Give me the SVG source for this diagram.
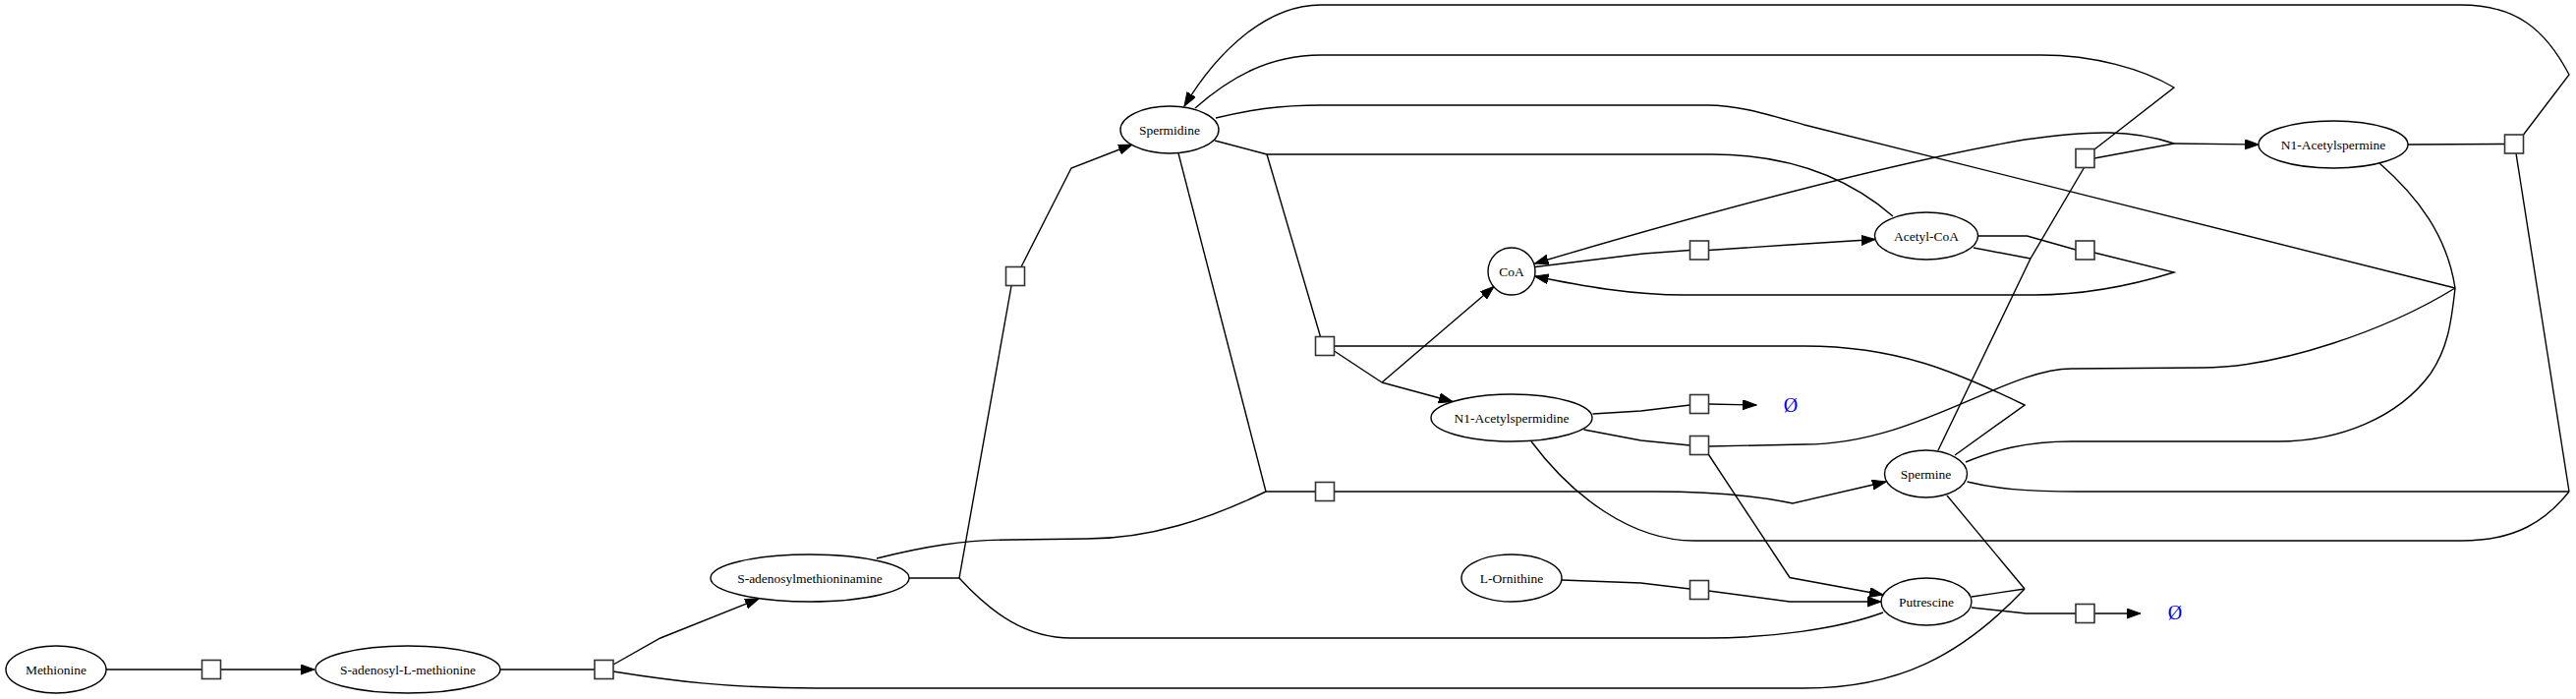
<svg xmlns="http://www.w3.org/2000/svg" width="2621" height="711" viewBox="0 0 2621 711">
<style>
.n ellipse{fill:#fff;stroke:#000;stroke-width:1.4}
.r rect{fill:#fff;stroke:#333;stroke-width:1.6}
.t{font-family:"Liberation Serif","Times New Roman",serif;font-size:13.5px;fill:#000;text-anchor:middle}
.e{fill:#0000ff;font-family:"Liberation Serif","Times New Roman",serif;font-size:20px;text-anchor:middle}
#edges path{fill:none;stroke:#000;stroke-width:1.4}
#edges path.a{marker-end:url(#ah)}
</style>
<defs>
<marker id="ah" markerUnits="userSpaceOnUse" markerWidth="15" markerHeight="11" refX="14" refY="5" orient="auto" viewBox="0 0 15 11">
<path d="M0,0 L14,5 L0,10 z" fill="#000" stroke="#000" stroke-width="1"/>
</marker>
</defs>
<rect width="2621" height="711" fill="#fff"/>
<g id="edges">
<path d="M108,681 L205.5,681"/>
<path class="a" d="M224.5,681 L320,681"/>
<path d="M509,681 L605,681"/>
<path class="a" d="M624,676 L672,649 L772,609"/>
<path d="M624,683 C680,692 740,700 830,700 L1836,700 C1930,700 1995,668 2060,599"/>
<path d="M2060,599 L2006,607"/>
<path d="M2060,599 L1981,504"/>
<path d="M925,588 L976,588"/>
<path d="M976,588 L1029,291"/>
<path d="M976,588 C1010,625 1045,649 1090,649 L1737,649 C1800,649 1870,640 1916,623"/>
<path d="M892,568 C940,556 980,549 1030,549 L1106,548 C1170,548 1230,528 1288,500"/>
<path d="M1288,500 L1199,156"/>
<path d="M1288,500 L1338.5,500"/>
<path class="a" d="M1357.5,500 L1683,500 C1740,500 1790,505 1824,512 L1919,490"/>
<path class="a" d="M1039,271.5 L1090,171 L1152,147"/>
<path d="M1236,143 L1289,157"/>
<path d="M1289,157 L1741,157 C1820,157 1880,180 1926,220"/>
<path d="M1289,157 L1343.5,342.5"/>
<path d="M1357.5,352 L1836,352 C1930,352 1990,378 2060,412 L1989,463"/>
<path d="M1357.5,357 L1406,389"/>
<path class="a" d="M1406,389 L1478,408.5"/>
<path class="a" d="M1406,389 L1520,291.5"/>
<path d="M1562,271.5 L1672,258 L1719.5,254.5"/>
<path class="a" d="M1738.5,254.5 L1821,249 L1908,243.5"/>
<path d="M2012.5,240 L2062.5,240 L2112,254"/>
<path class="a" d="M2131,257 L2212,277 C2170,290 2120,300 2070,300 L1714,300 C1660,300 1610,291 1561.5,281"/>
<path d="M2008,252 L2066,263"/>
<path d="M2120.5,170.5 L2066,263 L1972,458"/>
<path d="M2131,152 L2212,89 C2180,70 2130,56 2077,56 L1344,56 C1290,56 1250,80 1216,110"/>
<path d="M2131,161 L2212,146"/>
<path class="a" d="M2212,146 L2298,147"/>
<path class="a" d="M2212,146 C2170,132 2130,132 2060,142 C1900,170 1700,227 1561.5,268"/>
<path d="M1237,120 C1270,112 1300,107 1344,107 L1737,107 C1770,107 1800,117 1836,127 L2498,293"/>
<path d="M2421,166 C2460,200 2490,240 2498,293"/>
<path d="M2498,293 C2494,330 2490,355 2473,380 C2440,425 2380,449 2318,449 L2108,449 C2060,449 2030,458 2000,470"/>
<path d="M2498,293 C2430,335 2320,374 2240,374 L2108,375 C2040,375 1950,452 1836,452 L1738.5,454"/>
<path d="M2450,147 L2548.5,146.5"/>
<path class="a" d="M2567.5,137 L2614,76 C2590,30 2560,5 2504,5 L1344,5 C1290,5 1240,50 1205,108"/>
<path d="M2560,156 L2614,500"/>
<path d="M2614,500 L2114,500 C2060,500 2030,497 2001.5,490"/>
<path d="M2614,500 C2590,530 2560,550 2504,550 L1724,550 C1660,550 1600,505 1558,449"/>
<path d="M1620.5,421 L1669.5,418 L1719.5,412"/>
<path class="a" d="M1738.5,411 L1787,412"/>
<path d="M1611.5,437 L1669.5,448 L1719.5,453"/>
<path class="a" d="M1738.5,462.5 L1821,587.5 L1916,605"/>
<path d="M1589,590 L1669.5,593 L1719.5,599"/>
<path class="a" d="M1738.5,601 L1821,612 L1914,612"/>
<path d="M2006,618 L2061.5,624 L2112,624"/>
<path class="a" d="M2131,624 L2178,624"/>
</g>
<g id="Methionine" class="n"><ellipse cx="57" cy="681" rx="51" ry="24"/><text class="t" x="57" y="685.5">Methionine</text></g>
<g id="SAM" class="n"><ellipse cx="415" cy="681" rx="94" ry="24"/><text class="t" x="415" y="685.5">S-adenosyl-L-methionine</text></g>
<g id="SAMamine" class="n"><ellipse cx="824" cy="588" rx="101" ry="24"/><text class="t" x="824" y="592.5">S-adenosylmethioninamine</text></g>
<g id="Spermidine" class="n"><ellipse cx="1190" cy="132" rx="50" ry="24"/><text class="t" x="1190" y="136.5">Spermidine</text></g>
<g id="CoA" class="n"><ellipse cx="1538" cy="276" rx="24" ry="24"/><text class="t" x="1538" y="280.5">CoA</text></g>
<g id="AcetylCoA" class="n"><ellipse cx="1960" cy="240" rx="52.5" ry="24"/><text class="t" x="1960" y="244.5">Acetyl-CoA</text></g>
<g id="N1Acetylspermine" class="n"><ellipse cx="2374" cy="147" rx="76" ry="24"/><text class="t" x="2374" y="151.5">N1-Acetylspermine</text></g>
<g id="N1Acetylspermidine" class="n"><ellipse cx="1538" cy="425" rx="82" ry="24"/><text class="t" x="1538" y="429.5">N1-Acetylspermidine</text></g>
<g id="Spermine" class="n"><ellipse cx="1959.5" cy="482" rx="42" ry="24"/><text class="t" x="1959.5" y="486.5">Spermine</text></g>
<g id="LOrnithine" class="n"><ellipse cx="1538" cy="588" rx="51" ry="24"/><text class="t" x="1538" y="592.5">L-Ornithine</text></g>
<g id="Putrescine" class="n"><ellipse cx="1960" cy="612" rx="46" ry="24"/><text class="t" x="1960" y="616.5">Putrescine</text></g>
<g id="r1" class="r"><rect x="205.5" y="671.5" width="19" height="19"/></g>
<g id="r2" class="r"><rect x="605" y="671.5" width="19" height="19"/></g>
<g id="r3" class="r"><rect x="1023.5" y="271.5" width="19" height="19"/></g>
<g id="r4" class="r"><rect x="1338.5" y="342.5" width="19" height="19"/></g>
<g id="r5" class="r"><rect x="1338.5" y="490.5" width="19" height="19"/></g>
<g id="r6" class="r"><rect x="1719.5" y="245" width="19" height="19"/></g>
<g id="r7" class="r"><rect x="2112" y="245" width="19" height="19"/></g>
<g id="r8" class="r"><rect x="2112" y="151.5" width="19" height="19"/></g>
<g id="r9" class="r"><rect x="2548.5" y="137" width="19" height="19"/></g>
<g id="r10" class="r"><rect x="1719.5" y="401.5" width="19" height="19"/></g>
<g id="r11" class="r"><rect x="1719.5" y="443.5" width="19" height="19"/></g>
<g id="r12" class="r"><rect x="1719.5" y="590.5" width="19" height="19"/></g>
<g id="r13" class="r"><rect x="2112" y="614.5" width="19" height="19"/></g>
<g id="sink1"><text class="e" x="1822" y="419">Ø</text></g>
<g id="sink2"><text class="e" x="2213" y="630">Ø</text></g>
</svg>
